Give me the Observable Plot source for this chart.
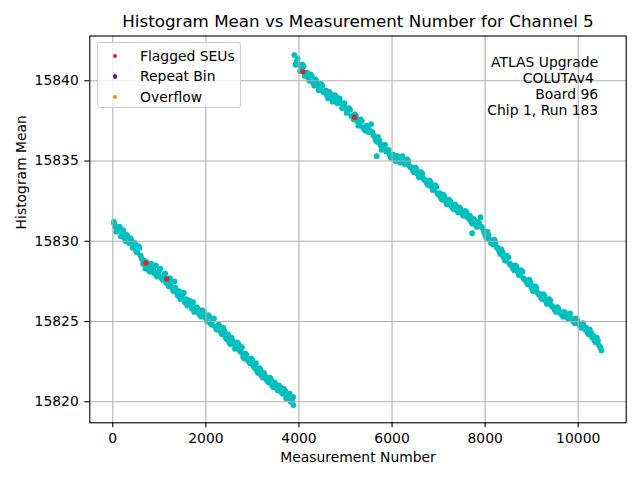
<!DOCTYPE html>
<html><head><meta charset="utf-8">
<script src="https://cdn.jsdelivr.net/npm/d3@7"></script>
<script src="https://cdn.jsdelivr.net/npm/@observablehq/plot@0.6"></script>
<style>
body{margin:0;background:#fff;}
#wrap{position:relative;width:640px;height:480px;font-family:"DejaVu Sans",sans-serif;}
#legend{position:absolute;left:96.5px;top:42.3px;width:144px;height:65.5px;box-sizing:border-box;border:1px solid #cccccc;border-radius:3px;background:rgba(255,255,255,0.8);font-size:13.9px;color:#000;}
.row{position:absolute;left:0;height:16px;line-height:16px;width:100%;}
.mk{position:absolute;left:15.5px;top:6px;width:4.4px;height:4.4px;border-radius:50%;}
.lab{position:absolute;left:42.5px;top:0;white-space:nowrap;}
</style></head>
<body><div id="wrap"></div>
<script>
const title = "Histogram Mean vs Measurement Number for Channel 5";
const xLabel = "Measurement Number";
const yLabel = "Histogram Mean";
const annotation = "ATLAS Upgrade\nCOLUTAv4\u00a0\nBoard 96\nChip 1, Run 183";
const xTicks = [0, 2000, 4000, 6000, 8000, 10000];
const yTicks = [15820, 15825, 15830, 15835, 15840];

// first run segment (measurements 0 - 3900)
const seg1X = [30,50,100,150,200,250,300,350,400,450,500,550,600,650,700,750,800,850,900,950,1000,1050,1100,1150,1200,1250,1300,1350,1400,1450,1500,1550,1600,1650,1700,1750,1800,1850,1900,1950,2000,2050,2100,2150,2200,2250,2300,2350,2400,2450,2500,2550,2600,2650,2700,2750,2800,2850,2900,2950,3000,3050,3100,3150,3200,3250,3300,3350,3400,3450,3500,3550,3600,3650,3700,3750,3800,3850,3880];
const seg1Y = [15831.1,15830.9,15830.7,15830.9,15830.5,15830.2,15830.4,15829.9,15830.1,15829.7,15829.4,15829.7,15829.1,15828.6,15828.3,15828.5,15828.1,15828.4,15828.0,15827.8,15828.2,15827.7,15827.9,15827.4,15827.2,15827.4,15826.9,15827.1,15826.6,15826.4,15826.7,15826.2,15826.0,15826.3,15825.8,15825.6,15825.9,15825.5,15825.3,15825.6,15825.2,15825.4,15824.9,15825.1,15824.7,15824.5,15824.7,15824.2,15824.4,15823.9,15823.7,15824.0,15823.6,15823.4,15823.6,15823.1,15822.8,15823.0,15822.6,15822.4,15822.6,15822.1,15821.9,15822.1,15821.6,15821.8,15821.4,15821.2,15821.4,15820.9,15821.1,15820.7,15820.9,15820.5,15820.7,15820.3,15820.5,15820.1,15819.8];
const seg1bX = [25,75,125,175,225,275,325,375,425,475,525,575,625,675,725,775,825,875,925,975,1025,1075,1125,1175,1225,1275,1325,1375,1425,1475,1525,1575,1625,1675,1725,1775,1825,1875,1925,1975,2025,2075,2125,2175,2225,2275,2325,2375,2425,2475,2525,2575,2625,2675,2725,2775,2825,2875,2925,2975,3025,3075,3125,3175,3225,3275,3325,3375,3425,3475,3525,3575,3625,3675,3725,3775,3825,3875];
const seg1bY = [15831.2,15830.6,15830.9,15830.3,15830.7,15830.0,15830.3,15830.2,15829.6,15829.9,15829.3,15829.6,15828.9,15828.8,15828.7,15828.2,15828.6,15828.2,15828.5,15827.9,15828.3,15827.6,15828.0,15827.4,15827.7,15827.1,15827.5,15826.8,15826.9,15826.5,15826.8,15826.4,15826.1,15826.0,15826.2,15825.7,15825.8,15825.4,15825.7,15825.3,15825.0,15825.3,15824.8,15825.2,15824.5,15824.8,15824.3,15824.6,15824.0,15824.2,15823.6,15823.8,15823.3,15823.7,15823.2,15823.4,15822.7,15822.9,15822.5,15822.7,15822.2,15822.4,15821.8,15822.0,15821.5,15821.6,15821.3,15821.5,15821.0,15821.2,15820.8,15821.0,15820.6,15820.8,15820.2,15820.4,15820.0,15820.3];

// second run segment (measurements 3900 - 10500)
const seg2X = [3900,3950,4000,4050,4100,4150,4200,4250,4300,4350,4400,4450,4500,4550,4600,4650,4700,4750,4800,4850,4900,4950,5000,5050,5100,5150,5200,5250,5300,5350,5400,5450,5500,5550,5600,5650,5700,5750,5800,5850,5900,5950,6000,6050,6100,6150,6200,6250,6300,6350,6400,6450,6500,6550,6600,6650,6700,6750,6800,6850,6900,6950,7000,7050,7100,7150,7200,7250,7300,7350,7400,7450,7500,7550,7600,7650,7700,7750,7800,7850,7900,7950,8000,8050,8100,8150,8200,8250,8300,8350,8400,8450,8500,8550,8600,8650,8700,8750,8800,8850,8900,8950,9000,9050,9100,9150,9200,9250,9300,9350,9400,9450,9500,9550,9600,9650,9700,9750,9800,9850,9900,9950,10000,10050,10100,10150,10200,10250,10300,10350,10400,10450,10500,7720,5670];
const seg2Y = [15841.6,15841.2,15841.0,15840.7,15840.9,15840.4,15840.2,15840.4,15839.9,15840.1,15839.7,15839.5,15839.7,15839.3,15839.1,15839.3,15839.0,15838.8,15839.0,15838.8,15838.6,15838.5,15838.3,15838.1,15838.2,15837.8,15837.9,15837.5,15837.3,15837.5,15837.0,15837.2,15836.8,15837.3,15836.6,15836.3,15836.5,15836.0,15835.8,15836.0,15835.6,15835.4,15835.3,15835.1,15835.3,15835.0,15835.2,15835.0,15834.9,15835.0,15834.6,15834.4,15834.6,15834.2,15834.0,15834.2,15833.8,15833.6,15833.8,15833.4,15833.2,15833.4,15832.9,15832.7,15832.9,15832.5,15832.3,15832.5,15832.1,15832.3,15831.9,15832.1,15831.8,15831.6,15831.8,15831.4,15831.2,15831.4,15831.0,15831.2,15831.5,15830.8,15830.4,15830.6,15830.1,15829.9,15830.1,15829.6,15829.4,15829.5,15829.0,15828.8,15829.0,15828.5,15828.3,15828.5,15828.1,15827.9,15828.1,15827.6,15827.4,15827.6,15827.1,15826.9,15827.1,15826.7,15826.5,15826.7,15826.3,15826.1,15826.3,15825.9,15825.7,15825.9,15825.6,15825.4,15825.6,15825.3,15825.4,15825.2,15825.0,15825.2,15824.9,15824.7,15824.9,15824.5,15824.3,15824.5,15824.0,15823.8,15824.0,15823.5,15823.2,15830.5,15835.3];
const seg2bX = [3925,3975,4025,4075,4125,4175,4225,4275,4325,4375,4425,4475,4525,4575,4625,4675,4725,4775,4825,4875,4925,4975,5025,5075,5125,5175,5225,5275,5325,5375,5425,5475,5525,5575,5625,5675,5725,5775,5825,5875,5925,5975,6025,6075,6125,6175,6225,6275,6325,6375,6425,6475,6525,6575,6625,6675,6725,6775,6825,6875,6925,6975,7025,7075,7125,7175,7225,7275,7325,7375,7425,7475,7525,7575,7625,7675,7725,7775,7825,7875,7925,7975,8025,8075,8125,8175,8225,8275,8325,8375,8425,8475,8525,8575,8625,8675,8725,8775,8825,8875,8925,8975,9025,9075,9125,9175,9225,9275,9325,9375,9425,9475,9525,9575,9625,9675,9725,9775,9825,9875,9925,9975,10025,10075,10125,10175,10225,10275,10325,10375,10425,10475];
const seg2bY = [15841.0,15841.4,15840.6,15841.0,15840.3,15840.5,15840.0,15840.3,15839.7,15840.0,15839.4,15839.8,15839.3,15839.4,15838.9,15839.2,15838.7,15839.1,15838.6,15838.9,15838.3,15838.6,15838.0,15838.3,15837.8,15837.6,15837.8,15837.2,15837.6,15837.1,15836.9,15837.1,15836.9,15836.8,15836.5,15836.2,15836.3,15835.7,15836.0,15835.6,15835.7,15835.2,15835.4,15835.0,15835.3,15834.9,15835.3,15834.8,15835.1,15834.7,15834.6,15834.3,15834.5,15834.0,15834.3,15833.9,15833.8,15833.5,15833.7,15833.2,15833.5,15833.0,15833.0,15832.6,15832.8,15832.3,15832.6,15832.2,15832.0,15832.2,15831.8,15832.0,15831.6,15831.9,15831.5,15831.6,15831.1,15831.3,15830.9,15831.1,15830.9,15830.6,15830.2,15830.4,15829.9,15829.8,15829.9,15829.6,15829.2,15829.3,15828.8,15829.1,15828.6,15828.5,15828.2,15828.4,15827.9,15828.2,15827.7,15827.6,15827.3,15827.4,15826.9,15827.2,15826.8,15826.7,15826.4,15826.6,15826.1,15826.4,15826.0,15825.9,15825.6,15825.8,15825.5,15825.3,15825.5,15825.2,15825.5,15825.1,15824.9,15825.1,15824.8,15824.6,15824.7,15824.6,15824.2,15824.3,15824.1,15823.7,15823.8,15823.4];

const flagX = [709, 1160, 4086, 5196];
const flagY = [15828.65, 15827.66, 15840.56, 15837.73];

const legendLabels = ["Flagged SEUs", "Repeat Bin", "Overflow"];
const legendColors = ["#d62728", "#800080", "#ff7f0e"];

const toPts = (xs, ys) => xs.map((x, i) => ({x, y: ys[i]}));
const points = [].concat(toPts(seg1X, seg1Y), toPts(seg1bX, seg1bY), toPts(seg2X, seg2Y), toPts(seg2bX, seg2bY));
const flagged = toPts(flagX, flagY);

const fs = 13.9;
const chart = Plot.plot({
  width: 640, height: 480,
  marginLeft: 89.3, marginRight: 14.3, marginTop: 35.5, marginBottom: 57.7,
  x: {domain: [-494, 11031]},
  y: {domain: [15818.69, 15842.79]},
  style: {fontFamily: "DejaVu Sans", fontSize: fs + "px", background: "white", color: "black"},
  marks: [
    Plot.dot(points, {x: "x", y: "y", r: 2.9, fill: "#00bfbf", stroke: "none"}),
    Plot.gridX(xTicks, {stroke: "#b0b0b0", strokeOpacity: 1, strokeWidth: 1.1}),
    Plot.gridY(yTicks, {stroke: "#b0b0b0", strokeOpacity: 1, strokeWidth: 1.1}),
    Plot.dot(flagged, {x: "x", y: "y", r: 2.7, fill: "#d62728", stroke: "none"}),
    Plot.axisX(xTicks, {tickSize: 5, tickPadding: 5, tickFormat: d => String(d), label: null, fontSize: fs, strokeWidth: 1.1}),
    Plot.axisY(yTicks, {tickSize: 5, tickPadding: 6, tickFormat: d => String(d), label: null, fontSize: fs, strokeWidth: 1.1}),
    Plot.frame({stroke: "black", strokeWidth: 1.1}),
    Plot.text([title], {frameAnchor: "top", dy: -14, lineAnchor: "middle", fontSize: 16.7, fill: "black"}),
    Plot.text([xLabel], {frameAnchor: "bottom", dy: 35, lineAnchor: "middle", fontSize: fs, fill: "black"}),
    Plot.text([yLabel], {frameAnchor: "left", dx: -68, rotate: -90, lineAnchor: "middle", fontSize: fs, fill: "black"}),
    Plot.text([annotation], {frameAnchor: "top-right", textAnchor: "end", lineAnchor: "middle", dx: -28, dy: 50, lineHeight: 16 / fs, fontSize: fs, fill: "black"})
  ]
});
const wrap = document.getElementById("wrap");
wrap.appendChild(chart);
const leg = d3.select(wrap).append("div").attr("id", "legend");
legendLabels.forEach((lab, i) => {
  const row = leg.append("div").attr("class", "row").style("top", (4.5 + i * 20.6) + "px");
  row.append("div").attr("class", "mk").style("background", legendColors[i]);
  row.append("div").attr("class", "lab").text(lab);
});
</script></body></html>
